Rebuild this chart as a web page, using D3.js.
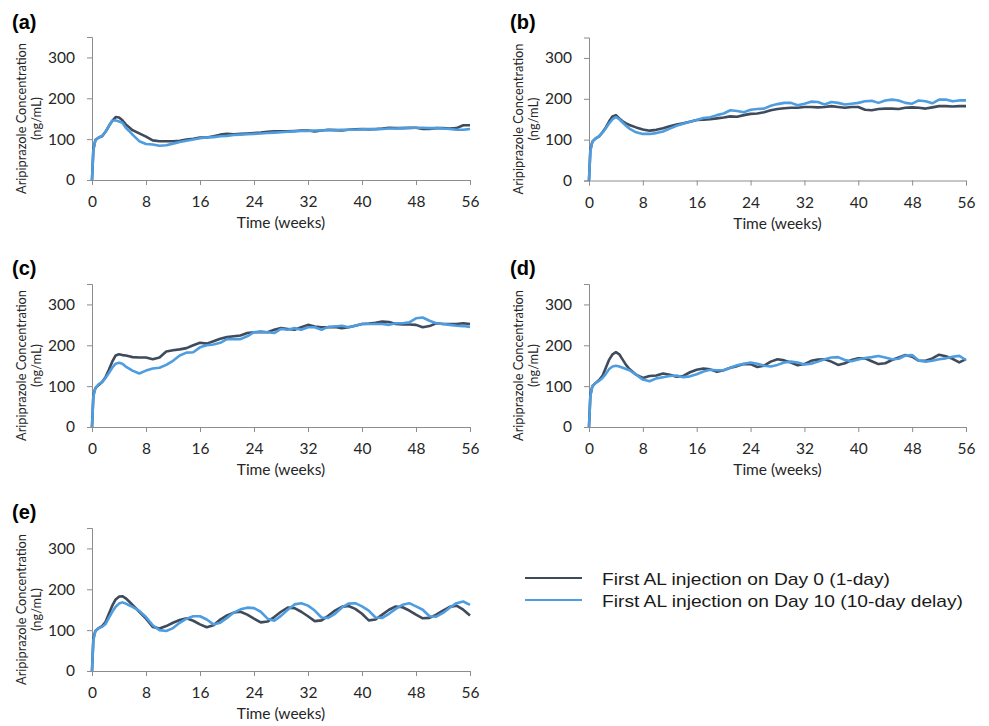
<!DOCTYPE html>
<html>
<head>
<meta charset="utf-8">
<script src="https://cdn.jsdelivr.net/npm/d3@7"></script>
<style>
	body { margin: 0; background: #fff; }
</style>
</head>
<body>
<div id="chart"></div>
<script>
const WIDTH = 989;
const HEIGHT = 726;
const DARK = '#3f4a5b';
const BLUE = '#4d9de0';
const AXIS_COLOR = '#8c8c8c';
const TEXT_COLOR = '#262626';
const AXIS_FONT = 'Lato, "Open Sans", sans-serif';

// time grid (weeks)
const WEEKS = [0, 0.2, 0.5, 1, 1.5, 2, 2.5, 3, 3.5, 4, 4.5, 5, 5.5, 6, 7, 8, 9, 10, 11, 12, 13, 14, 15,
	16, 17, 18, 19, 20, 21, 22, 23, 24, 25, 26, 27, 28, 29, 30, 31, 32, 33, 34, 35, 36, 37, 38, 39, 40,
	41, 42, 43, 44, 45, 46, 47, 48, 49, 50, 51, 52, 53, 54, 55, 56];

const X_TICKS = [0, 8, 16, 24, 32, 40, 48, 56];
const Y_TICKS = [0, 100, 200, 300];
const PANEL_LABELS = ['(a)', '(b)', '(c)', '(d)', '(e)'];
const LEGEND_LABELS = ['First AL injection on Day 0 (1-day)', 'First AL injection on Day 10 (10-day delay)'];
const LEGEND_WIDTHS = [288, 361];

// first AL injection on day 0 (1-day)
const A_DAY0 = [0, 75, 98, 104, 107, 118, 132, 145, 154, 153, 146, 136, 129, 122, 114, 106, 97, 95, 95, 95, 96,
	99, 101, 104, 104, 107, 111, 113, 112, 113, 114, 115, 116, 118, 119, 119, 119, 120, 121, 121, 119, 121,
	123, 122, 121, 123, 124, 125, 124, 125, 126, 128, 127, 127, 128, 128, 125, 125, 127, 127, 126, 127, 134, 134];
const B_DAY0 = [0, 75, 95, 103, 108, 118, 130, 145, 157, 160, 152, 145, 140, 136, 130, 125, 122, 124, 128, 133,
	137, 140, 144, 148, 149, 150, 152, 154, 157, 156, 160, 163, 164, 167, 172, 175, 177, 178, 178, 180, 180,
	179, 180, 182, 180, 178, 180, 180, 173, 172, 175, 176, 176, 175, 178, 179, 178, 176, 179, 182, 182, 181, 182, 182];
const C_DAY0 = [0, 78, 95, 103, 110, 122, 140, 160, 175, 178, 176, 175, 173, 171, 170, 170, 166, 170, 185, 188,
	190, 193, 200, 206, 204, 210, 216, 220, 222, 224, 230, 232, 232, 232, 238, 242, 240, 238, 244, 250, 246,
	244, 244, 245, 242, 244, 248, 252, 253, 255, 258, 257, 252, 251, 251, 250, 244, 247, 254, 252, 252, 252, 254, 252];
const D_DAY0 = [0, 78, 100, 108, 115, 125, 145, 165, 178, 183, 178, 165, 152, 142, 128, 120, 125, 126, 131, 128,
	123, 125, 134, 140, 143, 141, 135, 139, 145, 149, 154, 154, 147, 150, 160, 166, 163, 158, 151, 154, 162,
	165, 166, 160, 152, 156, 164, 168, 168, 161, 154, 156, 164, 170, 176, 172, 162, 162, 168, 177, 173, 167, 158, 166];
const E_DAY0 = [0, 80, 98, 105, 110, 120, 140, 160, 175, 182, 183, 178, 170, 162, 145, 128, 108, 104, 110, 118,
	125, 129, 123, 114, 107, 112, 126, 136, 143, 145, 138, 128, 119, 121, 132, 145, 155, 154, 145, 134, 122,
	124, 135, 148, 157, 159, 152, 140, 124, 126, 138, 150, 158, 156, 148, 138, 129, 130, 138, 148, 157, 160, 150, 136];

// first AL injection on day 10 (10-day delay)
const A_DAY10 = [0, 72, 98, 104, 108, 118, 132, 145, 146, 143, 140, 128, 120, 111, 95, 88, 87, 84, 85, 89, 93,
	96, 99, 102, 104, 105, 107, 108, 110, 111, 112, 113, 114, 115, 116, 117, 118, 119, 120, 120, 121, 121,
	122, 122, 123, 123, 123, 124, 125, 124, 125, 126, 126, 127, 127, 128, 128, 127, 127, 126, 125, 123, 123, 125];
const B_DAY10 = [0, 72, 95, 103, 108, 117, 128, 140, 150, 155, 150, 142, 134, 127, 118, 114, 114, 116, 120, 127,
	134, 139, 144, 148, 153, 155, 160, 164, 172, 170, 167, 173, 175, 176, 183, 187, 190, 190, 184, 188, 193,
	192, 186, 192, 190, 186, 188, 190, 194, 195, 190, 196, 198, 196, 190, 188, 196, 194, 189, 198, 198, 194, 196, 196];
const C_DAY10 = [0, 75, 95, 105, 110, 120, 132, 145, 155, 157, 155, 148, 143, 138, 131, 138, 143, 145, 152, 162,
	175, 182, 183, 195, 200, 202, 206, 215, 215, 215, 222, 232, 234, 232, 230, 240, 238, 242, 238, 244, 244,
	238, 245, 246, 248, 244, 248, 252, 252, 252, 252, 250, 254, 254, 256, 266, 268, 260, 254, 252, 250, 248, 247, 245];
const D_DAY10 = [0, 75, 100, 108, 113, 120, 130, 142, 148, 150, 148, 145, 142, 139, 128, 116, 112, 119, 122, 125,
	126, 122, 124, 129, 136, 140, 139, 139, 145, 151, 155, 158, 155, 150, 148, 152, 158, 160, 158, 153, 155,
	160, 166, 170, 171, 164, 161, 165, 169, 171, 174, 170, 166, 167, 175, 176, 162, 160, 162, 166, 168, 172, 174, 164];
const E_DAY10 = [0, 75, 98, 105, 108, 115, 130, 145, 157, 165, 168, 165, 161, 157, 147, 132, 112, 100, 98, 105,
	118, 128, 134, 134, 126, 114, 118, 130, 143, 151, 155, 154, 145, 128, 123, 135, 150, 163, 166, 160, 148,
	131, 130, 140, 155, 165, 166, 158, 148, 131, 130, 140, 152, 162, 166, 158, 150, 134, 133, 142, 155, 166, 170, 162];

// panel frames: left edge, right edge, bottom of the plot area
const PANELS = [
	{ label: PANEL_LABELS[0], series: [A_DAY0, A_DAY10], left: 92, right: 470, bottom: 180, labelX: 12, labelY: 29 },
	{ label: PANEL_LABELS[1], series: [B_DAY0, B_DAY10], left: 589, right: 966, bottom: 180.5, labelX: 510, labelY: 29 },
	{ label: PANEL_LABELS[2], series: [C_DAY0, C_DAY10], left: 92, right: 470, bottom: 427, labelX: 12, labelY: 275 },
	{ label: PANEL_LABELS[3], series: [D_DAY0, D_DAY10], left: 589, right: 966, bottom: 427, labelX: 510, labelY: 275 },
	{ label: PANEL_LABELS[4], series: [E_DAY0, E_DAY10], left: 92, right: 470, bottom: 671, labelX: 12, labelY: 519 }
];
const PLOT_HEIGHT = 143;
const COLORS = [DARK, BLUE];

const drawPanel = (svg, panel) => {
	const g = svg.append('g');

	const xScale = d3.scaleLinear()
		.domain([0, 56])
		.range([panel.left, panel.right]);
	const yScale = d3.scaleLinear()
		.domain([0, 350])
		.range([panel.bottom, panel.bottom - PLOT_HEIGHT]);

	const xAxis = d3.axisBottom(xScale).tickValues(X_TICKS).tickSizeOuter(0).tickSize(5).tickPadding(11);
	const yAxis = d3.axisLeft(yScale).tickValues(Y_TICKS).tickSizeOuter(0).tickSize(5).tickPadding(12);

	// axes
	const gx = g.append('g')
		.attr('transform', `translate(0, ${panel.bottom})`)
		.call(xAxis);
	const gy = g.append('g')
		.attr('transform', `translate(${panel.left}, 0)`)
		.call(yAxis);
	[gx, gy].forEach(ax => {
		ax.select('.domain').attr('stroke', AXIS_COLOR);
		ax.selectAll('.tick line').attr('stroke', AXIS_COLOR);
		ax.selectAll('.tick text')
			.attr('fill', TEXT_COLOR)
			.style('font-family', AXIS_FONT)
			.style('font-size', '15.5px');
	});

	// lines
	const line = d3.line()
		.x((d, i) => xScale(WEEKS[i]))
		.y(d => yScale(d));
	panel.series.forEach((values, i) => {
		g.append('path')
			.datum(values)
			.attr('fill', 'none')
			.attr('stroke', COLORS[i])
			.attr('stroke-width', 2.6)
			.attr('stroke-linejoin', 'round')
			.attr('d', line);
	});

	// labels
	svg.append('text')
		.attr('x', panel.labelX)
		.attr('y', panel.labelY)
		.style('font-family', '"Liberation Sans", Arial, sans-serif')
		.style('font-weight', 'bold')
		.style('font-size', '20px')
		.text(panel.label);

	const midX = (panel.left + panel.right) / 2;
	svg.append('text')
		.attr('x', midX)
		.attr('y', panel.bottom + 48)
		.attr('fill', TEXT_COLOR)
		.style('font-family', AXIS_FONT)
		.style('font-size', '15.5px')
		.style('text-anchor', 'middle')
		.text('Time (weeks)');

	const midY = panel.bottom - PLOT_HEIGHT / 2 + 10;
	const yLabel = svg.append('text')
		.attr('transform', `translate(${panel.left - 66}, ${midY}) rotate(-90)`)
		.attr('fill', TEXT_COLOR)
		.style('font-family', AXIS_FONT)
		.style('font-size', '12.8px')
		.style('text-anchor', 'middle');
	yLabel.append('tspan').attr('x', 0).attr('dy', 0).text('Aripiprazole Concentration');
	yLabel.append('tspan').attr('x', 0).attr('dy', 15).text('(ng/mL)');
}

const main = () => {
	const svg = d3.select('#chart')
		.append('svg')
		.attr('width', WIDTH)
		.attr('height', HEIGHT);

	PANELS.forEach(panel => drawPanel(svg, panel));

	// legend
	const legend = svg.append('g');
	LEGEND_LABELS.forEach((label, i) => {
		const y = 578 + i * 22;
		legend.append('line')
			.attr('x1', 525)
			.attr('x2', 582)
			.attr('y1', y)
			.attr('y2', y)
			.attr('stroke', COLORS[i])
			.attr('stroke-width', 2);
		legend.append('text')
			.attr('x', 602)
			.attr('y', y + 7)
			.attr('fill', '#1a1a1a')
			.attr('textLength', LEGEND_WIDTHS[i])
			.attr('lengthAdjust', 'spacingAndGlyphs')
			.style('font-family', '"Liberation Sans", Arial, sans-serif')
			.style('font-size', '17px')
			.text(label);
	});
}

main();
</script>
</body>
</html>
